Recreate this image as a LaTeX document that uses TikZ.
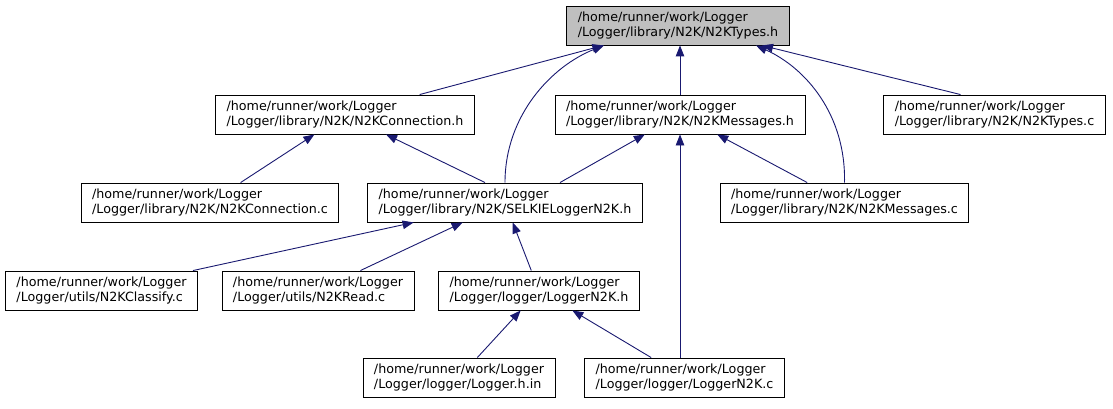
\documentclass[tikz,border=0pt]{standalone}
\usepackage{fontspec}
\setmainfont{DejaVu Sans}
\usetikzlibrary{arrows.meta}
\definecolor{edgeblue}{HTML}{191970}
\definecolor{rootgray}{HTML}{BFBFBF}

\begin{document}
\begin{tikzpicture}[x=1pt,y=-1pt,
    file/.style={draw=black,line width=0.9pt,fill=white,align=left,
        inner xsep=11pt,inner ysep=0pt,minimum height=39pt,
        font=\fontsize{12.7}{14.5}\selectfont},
    dep/.style={draw=edgeblue,line width=0.9pt,-{Triangle[length=11pt,width=8.5pt]}}]
\useasboundingbox (0,0) rectangle (1113,409);
% header and the files that include it
\node[file,fill=rootgray] (types) at (678,25.5) {/home/runner/work/Logger\\/Logger/library/N2K/N2KTypes.h};
\node[file] (conn) at (345,114.5) {/home/runner/work/Logger\\/Logger/library/N2K/N2KConnection.h};
\node[file] (msgh) at (680,114.5) {/home/runner/work/Logger\\/Logger/library/N2K/N2KMessages.h};
\node[file] (typesc) at (994.5,114.5) {/home/runner/work/Logger\\/Logger/library/N2K/N2KTypes.c};
\node[file] (connc) at (210,202.5) {/home/runner/work/Logger\\/Logger/library/N2K/N2KConnection.c};
\node[file] (selk) at (505,202.5) {/home/runner/work/Logger\\/Logger/library/N2K/SELKIELoggerN2K.h};
\node[file] (msgc) at (844.5,202.5) {/home/runner/work/Logger\\/Logger/library/N2K/N2KMessages.c};
\node[file] (classify) at (101.5,290.5) {/home/runner/work/Logger\\/Logger/utils/N2KClassify.c};
\node[file] (read) at (318,290.5) {/home/runner/work/Logger\\/Logger/utils/N2KRead.c};
\node[file] (lnh) at (539,290.5) {/home/runner/work/Logger\\/Logger/logger/LoggerN2K.h};
\node[file] (lhin) at (459,377.5) {/home/runner/work/Logger\\/Logger/logger/Logger.h.in};
\node[file] (lnc) at (684.5,377.5) {/home/runner/work/Logger\\/Logger/logger/LoggerN2K.c};

% include edges
\draw[dep] (conn) -- (types);
\draw[dep] (selk.north) .. controls (505,115) and (552,66) .. ([xshift=-74pt]types.south);
\draw[dep] (msgh.north) -- (msgh.north |- types.south);
\draw[dep] (msgc.north) .. controls (846,115) and (806,68) .. ([xshift=78pt]types.south);
\draw[dep] ([xshift=-34pt]typesc.north) -- ([xshift=84pt]types.south);
\draw[dep] (connc) -- (conn);
\draw[dep] ([xshift=-20pt]selk.north) -- (conn);
\draw[dep] ([xshift=55pt]selk.north) -- (msgh);
\draw[dep] (msgc) -- (msgh);
\draw[dep] (msgh.south |- lnc.north) -- (msgh.south);
\draw[dep] (classify) -- (selk);
\draw[dep] (read) -- (selk);
\draw[dep] (lnh) -- (selk);
\draw[dep] (lhin) -- (lnh);
\draw[dep] (lnc) -- (lnh);
\end{tikzpicture}
\end{document}
